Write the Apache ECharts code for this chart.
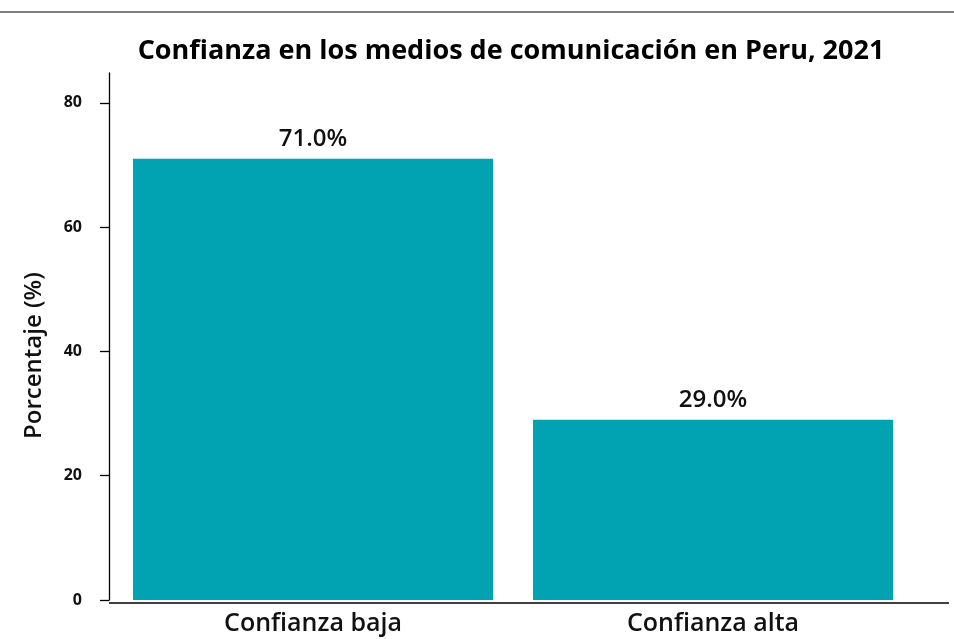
<!DOCTYPE html>
<html>
<head>
<meta charset="utf-8">
<script src="https://cdn.jsdelivr.net/npm/echarts@6/dist/echarts.min.js"></script>
<style>
  html, body { margin: 0; padding: 0; background: #fff; }
  #main { width: 954px; height: 639px; }
</style>
</head>
<body>
<div id="main"></div>
<script>
// data
var categories = ["Confianza baja", "Confianza alta"];
var percentages = [71.0, 29.0];
var yTicks = [0, 20, 40, 60, 80];

var FONT = "Open Sans";
var INK = "#111";
var dom_chart = document.getElementById("main");
var myChart = echarts.init(dom_chart);

var option = {
    animation: false,
    title: {
        text: "Confianza en los medios de comunicación en Peru, 2021",
        left: 506,
        textAlign: "center",
        top: 33,
        textStyle: { fontFamily: FONT, fontSize: 27, fontWeight: "bold", color: "#000" }
    },
    grid: { left: 113, right: 41, top: 73, bottom: 39 },
    xAxis: {
        type: "category",
        data: categories,
        axisLine: { show: false },
        axisTick: { show: false },
        axisLabel: {
            margin: 11,
            fontFamily: FONT, fontSize: 25, fontWeight: 600, color: INK
        }
    },
    yAxis: {
        type: "value",
        min: yTicks[0],
        max: 84.8,
        interval: 20,
        offset: 4,
        name: "Porcentaje (%)",
        nameLocation: "middle",
        nameGap: 63,
        nameTextStyle: {
            fontFamily: FONT, fontSize: 24, fontWeight: 600, color: INK,
            padding: [0, 38, 0, 0]
        },
        splitLine: { show: false },
        axisLine: { show: true, lineStyle: { color: "#000", width: 1.3 } },
        axisTick: { show: true, length: 9, lineStyle: { color: "#000", width: 1.3 } },
        axisLabel: {
            margin: 27, showMaxLabel: false,
            fontFamily: FONT, fontSize: 16, fontWeight: "bold", color: INK
        }
    },
    series: [{
        type: "bar",
        data: percentages,
        barWidth: "90%",
        itemStyle: { color: "#01A3B3" },
        label: {
            show: true,
            position: "top",
            distance: 8,
            formatter: function (p) { return p.value.toFixed(1) + "%"; },
            fontFamily: FONT, fontSize: 24, fontWeight: 600, color: INK
        }
    }],
    graphic: [
        // thin rule across the top of the figure
        { type: "line", shape: { x1: 0, y1: 12, x2: 954, y2: 12 },
          style: { stroke: "#555", lineWidth: 1.5 } },
        // offset bottom spine
        { type: "line", shape: { x1: 109, y1: 603, x2: 949, y2: 603 },
          style: { stroke: "#000", lineWidth: 1.3 } }
    ]
};
myChart.setOption(option);
</script>
</body>
</html>
